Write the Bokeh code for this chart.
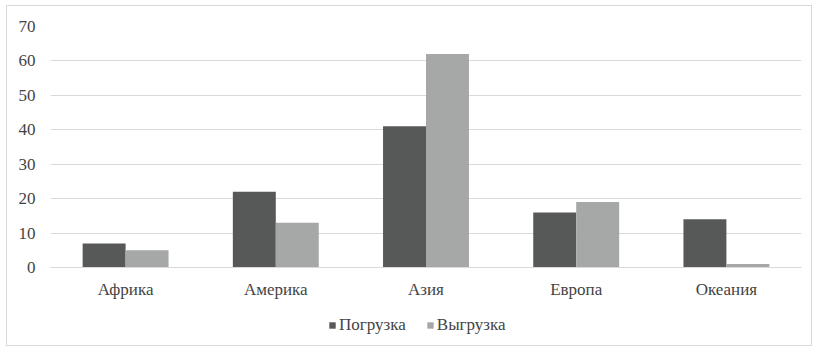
from bokeh.plotting import figure
from bokeh.layouts import column
from bokeh.models import ColumnDataSource, FactorRange, Legend, LegendItem, FixedTicker
from bokeh.transform import dodge
from bokeh.embed import file_html
from bokeh.resources import INLINE

# Cargo volumes by region
regions = ["Африка", "Америка", "Азия", "Европа", "Океания"]
loading = [7, 22, 41, 16, 14]      # Погрузка
unloading = [5, 13, 62, 19, 1]     # Выгрузка
y_ticks = [0, 10, 20, 30, 40, 50, 60, 70]

DARK = "#575959"
LIGHT = "#a6a8a8"
GRID = "#d9d9d9"
TEXT = "#444444"
FONT = "Liberation Serif"

src = ColumnDataSource(dict(region=regions, loading=loading, unloading=unloading))

# main bar chart
p = figure(
    width=804, height=295,
    x_range=FactorRange(*regions), y_range=(0, 70),
    output_backend="svg", toolbar_location=None,
    min_border_left=43, min_border_right=10,
    min_border_top=20, min_border_bottom=20,
)
p.outline_line_color = None
p.background_fill_color = "white"
p.border_fill_color = "white"

bw = 0.286
r1 = p.vbar(x=dodge("region", -bw / 2, range=p.x_range), top="loading", width=bw,
            source=src, fill_color=DARK, line_color=None)
r2 = p.vbar(x=dodge("region", bw / 2, range=p.x_range), top="unloading", width=bw,
            source=src, fill_color=LIGHT, line_color=None)

p.yaxis.ticker = FixedTicker(ticks=y_ticks)
p.yaxis.axis_line_color = None
p.yaxis.major_tick_line_color = None
p.yaxis.minor_tick_line_color = None
p.yaxis.major_label_standoff = 9
p.yaxis.major_label_text_font = FONT
p.yaxis.major_label_text_font_size = "17px"
p.yaxis.major_label_text_color = TEXT

p.xaxis.axis_line_color = GRID
p.xaxis.axis_line_width = 1
p.xaxis.major_tick_line_color = None
p.xaxis.minor_tick_line_color = None
p.xaxis.major_label_standoff = 6
p.xaxis.major_label_text_font = FONT
p.xaxis.major_label_text_font_size = "17px"
p.xaxis.major_label_text_color = TEXT

p.xgrid.grid_line_color = None
p.ygrid.ticker = FixedTicker(ticks=y_ticks)
p.ygrid.grid_line_color = GRID
p.ygrid.grid_line_width = 1

# legend strip under the chart; swatch renderers have zero height so only the key shows
lg = figure(
    width=804, height=44, x_range=(0, 1), y_range=(0, 1),
    x_axis_type=None, y_axis_type=None,
    output_backend="svg", toolbar_location=None, min_border=0,
)
lg.outline_line_color = None
lg.background_fill_color = "white"
lg.border_fill_color = "white"
lg.xgrid.grid_line_color = None
lg.ygrid.grid_line_color = None
k1 = lg.vbar(x=[0.5], top=[0], bottom=[0], width=0.0, fill_color=DARK, line_color=None)
k2 = lg.vbar(x=[0.5], top=[0], bottom=[0], width=0.0, fill_color=LIGHT, line_color=None)

legend = Legend(
    items=[LegendItem(label="Погрузка", renderers=[k1]),
           LegendItem(label="Выгрузка", renderers=[k2])],
    orientation="horizontal", location=(278, 10),
    glyph_width=8, glyph_height=8, label_standoff=3, spacing=20,
    label_text_font=FONT, label_text_font_size="17px", label_text_color=TEXT,
    border_line_color=None, background_fill_alpha=0,
    padding=0, margin=0,
)
lg.add_layout(legend, "center")

chart = column(p, lg, spacing=0, margin=(5, 3, 3, 6),
               styles={"border": "1px solid #d9d9d9", "background-color": "white"})

open("out.html", "w").write(file_html(chart, INLINE))
